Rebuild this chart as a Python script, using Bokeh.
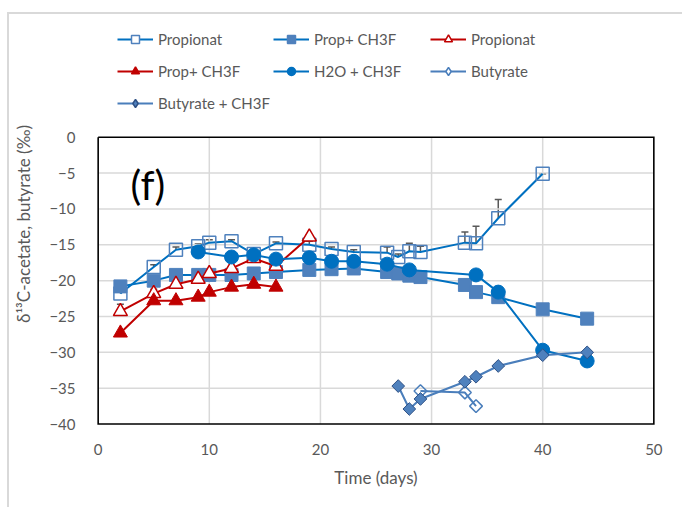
import numpy as np
from bokeh.plotting import figure
from bokeh.models import (Range1d, FixedTicker, Legend, LegendItem, ColumnDataSource,
                          Whisker, TeeHead)
from bokeh.core.properties import value
from bokeh.embed import file_html
from bokeh.resources import INLINE

# ---------------- data ----------------
days_prop_b = [2, 5, 7, 9, 10, 12, 14, 16, 19, 21, 23, 26, 27, 28, 29, 33, 34, 36, 40]
prop_b = [-21.8, -18.1, -15.7, -15.2, -14.7, -14.5, -16.3, -14.8, -15.0, -15.6, -16.0,
          -16.1, -16.7, -15.9, -16.0, -14.7, -14.8, -11.3, -5.1]
prop_b_err = [0.3, 0.3, 0.4, 0.3, 0.4, 0.2, 0.3, 0.2, 0.5, 0.3, 0.3,
              0.8, 0.4, 1.1, 0.8, 1.5, 2.4, 2.6, 0.0]

days_propch_b = [2, 5, 7, 9, 10, 12, 14, 16, 19, 21, 23, 26, 27, 28, 29, 33, 34, 36, 40, 44]
propch_b = [-20.8, -20.0, -19.2, -19.2, -19.2, -19.2, -19.0, -18.8, -18.5, -18.4, -18.3,
            -18.8, -19.0, -19.3, -19.5, -20.6, -21.6, -22.3, -24.0, -25.3]

days_prop_r = [2, 5, 7, 9, 10, 12, 14, 16, 19]
prop_r = [-24.3, -21.8, -20.5, -19.8, -19.0, -18.3, -16.9, -18.0, -13.9]
prop_r_err = [1.0, 0.6, 0.3, 0.5, 0.5, 0.3, 0.3, 0.3, 0.3]

days_propch_r = [2, 5, 7, 9, 10, 12, 14, 16]
propch_r = [-27.3, -22.8, -22.8, -22.3, -21.6, -20.9, -20.5, -20.9]

days_h2o = [9, 12, 14, 16, 19, 21, 23, 26, 28, 34, 36, 40, 44]
h2o = [-16.0, -16.7, -16.4, -17.0, -16.8, -17.3, -17.3, -17.7, -18.5, -19.2, -21.6, -29.7, -31.2]

days_but = [29, 33, 34]
but = [-35.4, -35.6, -37.5]

days_butch = [27, 28, 29, 33, 34, 36, 40, 44]
butch = [-34.7, -37.9, -36.5, -34.1, -33.4, -31.9, -30.4, -30.0]

x_ticks = [0, 10, 20, 30, 40, 50]
y_ticks = [-40, -35, -30, -25, -20, -15, -10, -5, 0]
x_lim = (0, 50)
y_lim = (-40, 0)

# ---------------- figure ----------------
FONT = "Lato"
GREY = "#595959"
BLUE = "#0070C0"
BLUE2 = "#4F81BD"
RED = "#C00000"
DIAM_LINE = "#4A7EBB"
DIAM_EDGE = "#2F5185"

# frame extends above the plot box so that the legend can sit inside it
p = figure(width=673, height=493, output_backend="svg", toolbar_location=None,
           x_range=Range1d(-0.15, 50.15), y_range=Range1d(-40.2, 16.0),
           min_border_left=87, min_border_top=8, min_border_right=27, min_border_bottom=82,
           frame_width=559, frame_height=403)
p.styles = {"margin-left": "7px", "margin-top": "12px",
            "border-left": "2px solid #D9D9D9", "border-top": "2px solid #D9D9D9"}
p.background_fill_color = "white"
p.border_fill_color = "white"
p.outline_line_color = None
p.xgrid.visible = False
p.ygrid.visible = False

for ax in (p.xaxis[0], p.yaxis[0]):
    ax.axis_line_color = None
    ax.major_tick_line_color = None
    ax.minor_tick_line_color = None
    ax.major_label_text_font = FONT
    ax.major_label_text_font_size = "15px"
    ax.major_label_text_color = GREY
    ax.axis_label_text_font = FONT
    ax.axis_label_text_font_size = "17px"
    ax.axis_label_text_color = GREY
    ax.axis_label_text_font_style = "normal"

p.xaxis[0].ticker = FixedTicker(ticks=x_ticks)
p.yaxis[0].ticker = FixedTicker(ticks=y_ticks)
p.yaxis[0].bounds = y_lim
p.xaxis[0].bounds = x_lim
p.xaxis[0].major_label_standoff = 12
p.yaxis[0].major_label_standoff = 15
p.xaxis[0].axis_label = "Time (days)"
p.yaxis[0].axis_label = "δ¹³C-acetate, butyrate (‰)"
p.xaxis[0].axis_label_standoff = 9
p.yaxis[0].axis_label_standoff = 12

# grid lines and plot-area box
gx = [[t, t] for t in x_ticks[1:-1]]
gy = [[y_lim[0], y_lim[1]] for _ in x_ticks[1:-1]]
hx = [[x_lim[0], x_lim[1]] for _ in y_ticks[1:-1]]
hy = [[t, t] for t in y_ticks[1:-1]]
p.multi_line(gx + hx, gy + hy, line_color="#D9D9D9", line_width=1.5)
p.line([x_lim[0], x_lim[1], x_lim[1], x_lim[0], x_lim[0]],
       [y_lim[1], y_lim[1], y_lim[0], y_lim[0], y_lim[1]],
       line_color="black", line_width=1.6, line_join="miter")

MS = 13

# series 1: Propionat (blue open squares)
p.line(days_prop_b, prop_b, line_color=BLUE, line_width=2)
p.scatter(days_prop_b, prop_b, marker="square", size=MS, fill_color=None,
          line_color=BLUE2, line_width=1.5)

# series 2: Prop+ CH3F (blue filled squares)
p.line(days_propch_b, propch_b, line_color=BLUE, line_width=2)
p.scatter(days_propch_b, propch_b, marker="square", size=MS, fill_color=BLUE2,
          line_color=BLUE2, line_width=1)

# series 3: Propionat (red open triangles)
p.line(days_prop_r, prop_r, line_color=RED, line_width=2)
p.scatter(days_prop_r, prop_r, marker="triangle", size=MS + 1, fill_color="white",
          line_color=RED, line_width=1.5)

# series 4: Prop+ CH3F (red filled triangles)
p.line(days_propch_r, propch_r, line_color=RED, line_width=2)
p.scatter(days_propch_r, propch_r, marker="triangle", size=MS + 1, fill_color=RED,
          line_color=RED, line_width=1)

# series 5: H2O + CH3F (filled circles)
p.line(days_h2o, h2o, line_color=BLUE, line_width=2)
p.scatter(days_h2o, h2o, marker="circle", size=MS + 1, fill_color=BLUE,
          line_color=BLUE, line_width=1)

# series 6: Butyrate (open diamonds)
p.line(days_but, but, line_color=DIAM_LINE, line_width=2)
p.scatter(days_but, but, marker="square", angle=np.pi / 4, size=9, fill_color=None,
          line_color=DIAM_LINE, line_width=1.5)

# series 7: Butyrate + CH3F (filled diamonds)
p.line(days_butch, butch, line_color=DIAM_LINE, line_width=2)
p.scatter(days_butch, butch, marker="square", angle=np.pi / 4, size=9, fill_color=BLUE2,
          line_color=DIAM_EDGE, line_width=1)

# error bars (upper only)
for xs, ys, es in ((days_prop_b, prop_b, prop_b_err), (days_prop_r, prop_r, prop_r_err)):
    src = ColumnDataSource(dict(x=xs, lo=ys, hi=[y + e for y, e in zip(ys, es)]))
    w = Whisker(base="x", lower="lo", upper="hi", source=src, dimension="height",
                line_color=GREY, line_width=1.5, lower_head=None,
                upper_head=TeeHead(size=7, line_color=GREY, line_width=1.5))
    p.add_layout(w)

# panel label (f)
p.text(x=[2.9], y=[-6.7], text=["(f)"], text_font=value(FONT), text_font_size="40px",
       text_color="black", text_baseline="middle", text_align="left")

# ---------------- legend (legend-only renderers, placed off-range) ----------------
OFF = [-1000.0, -1001.0]
def dummy(marker, fill, edge, lcolor, size=8):
    ln = p.line(OFF, OFF, line_color=lcolor, line_width=2)
    sc = p.scatter(OFF[:1], OFF[:1], marker=marker, size=size, fill_color=fill,
                   line_color=edge, line_width=1.5)
    return [ln, sc]

items = {
    "c1": [("Propionat", dummy("square", "white", BLUE2, BLUE)),
           ("Prop+ CH3F", dummy("triangle", RED, RED, RED)),
           ("Butyrate + CH3F", dummy("diamond", BLUE2, DIAM_EDGE, DIAM_LINE, 11))],
    "c2": [("Prop+ CH3F", dummy("square", BLUE2, BLUE2, BLUE)),
           ("H2O + CH3F", dummy("circle", BLUE, BLUE, BLUE))],
    "c3": [("Propionat", dummy("triangle", "white", RED, RED)),
           ("Butyrate", dummy("diamond", "white", DIAM_LINE, DIAM_LINE, 11))],
}
locs = {"c1": (21, 312), "c2": (177, 344), "c3": (334, 344)}
for key, its in items.items():
    lg = Legend(items=[LegendItem(label=l, renderers=r) for l, r in its],
                location=locs[key], orientation="vertical",
                glyph_width=36, glyph_height=20, label_standoff=5, spacing=12,
                padding=0, margin=0, border_line_color=None, background_fill_alpha=0,
                label_text_font=FONT, label_text_font_size="15px", label_text_color=GREY,
                label_height=20)
    p.add_layout(lg, "center")

open("out.html", "w").write(file_html(p, INLINE))
